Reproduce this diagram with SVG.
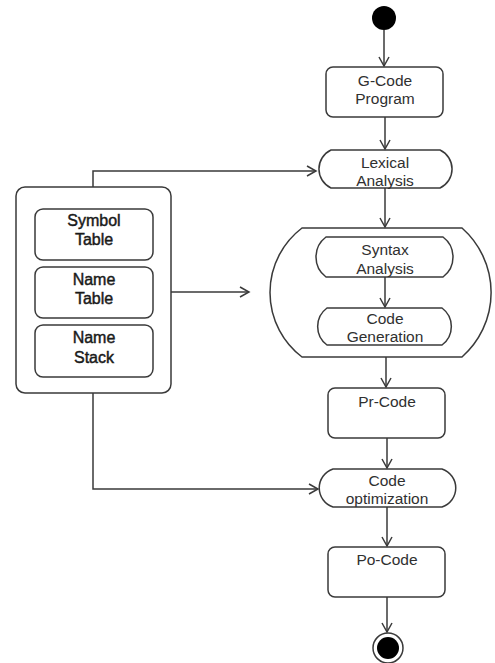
<svg xmlns="http://www.w3.org/2000/svg" width="495" height="663" viewBox="0 0 495 663">
  <style>
    .shape { fill: #ffffff; stroke: #3a3a3a; stroke-width: 1.5; }
    .edge { fill: none; stroke: #3a3a3a; stroke-width: 1.5; }
    .label { font-family: "Liberation Sans", Arial, sans-serif; font-size: 15.5px; fill: #303030; text-anchor: middle; }
    .inner { fill: #1a1a1a; stroke: #1a1a1a; stroke-width: 0.45; font-size: 16px; }
  </style>
  <defs>
    <marker id="open-arrow" markerWidth="12" markerHeight="12" refX="10" refY="6" orient="auto" markerUnits="userSpaceOnUse">
      <path d="M1,1 L10,6 L1,11" fill="none" stroke="#3a3a3a" stroke-width="1.5"/>
    </marker>
  </defs>
  <rect width="495" height="663" fill="#ffffff"/>

  <!-- initial state -->
  <g id="start">
    <circle cx="384" cy="18" r="12" fill="#000000"/>
  </g>

  <g id="gcode-program">
    <rect class="shape" x="326" y="67" width="117" height="50" rx="7"/>
    <text class="label" x="385" y="86">G-Code</text>
    <text class="label" x="385" y="104">Program</text>
  </g>

  <g id="lexical-analysis">
    <path class="shape" d="M331,150 H440 A21,21 0 0 1 440,188 H331 A21,21 0 0 1 331,150 Z"/>
    <text class="label" x="385" y="168">Lexical</text>
    <text class="label" x="385" y="186">Analysis</text>
  </g>

  <!-- left container with the three tables -->
  <g id="tables">
    <rect class="shape" x="16" y="187" width="155" height="206" rx="9"/>
    <g id="symbol-table">
      <rect class="shape" x="35" y="209" width="118" height="51" rx="8"/>
      <text class="label inner" x="94" y="226">Symbol</text>
      <text class="label inner" x="94" y="245">Table</text>
    </g>
    <g id="name-table">
      <rect class="shape" x="35" y="267" width="118" height="51" rx="8"/>
      <text class="label inner" x="94" y="285">Name</text>
      <text class="label inner" x="94" y="304">Table</text>
    </g>
    <g id="name-stack">
      <rect class="shape" x="35" y="325" width="118" height="52" rx="8"/>
      <text class="label inner" x="94" y="343">Name</text>
      <text class="label inner" x="94" y="363">Stack</text>
    </g>
  </g>

  <!-- compound activity: syntax analysis and code generation -->
  <g id="parser">
    <path class="shape" d="M302,228 H462 A86,86 0 0 1 462,357 H302 A81,81 0 0 1 302,228 Z"/>
    <g id="syntax-analysis">
      <path class="shape" d="M326,237 H443 A25,25 0 0 1 443,277 H326 A25,25 0 0 1 326,237 Z"/>
      <text class="label" x="385" y="255">Syntax</text>
      <text class="label" x="385" y="274">Analysis</text>
    </g>
    <g id="code-generation">
      <path class="shape" d="M327,308 H442 A23,23 0 0 1 442,345 H327 A23,23 0 0 1 327,308 Z"/>
      <text class="label" x="385" y="324">Code</text>
      <text class="label" x="385" y="342">Generation</text>
    </g>
  </g>

  <g id="pr-code">
    <rect class="shape" x="328" y="388" width="117" height="50" rx="7"/>
    <text class="label" x="387" y="407">Pr-Code</text>
  </g>

  <g id="code-optimization">
    <path class="shape" d="M333,469 H442 A20,20 0 0 1 442,507 H333 A20,20 0 0 1 333,469 Z"/>
    <text class="label" x="387" y="486">Code</text>
    <text class="label" x="387" y="504">optimization</text>
  </g>

  <g id="po-code">
    <rect class="shape" x="328" y="547" width="117" height="50" rx="7"/>
    <text class="label" x="387" y="565">Po-Code</text>
  </g>

  <!-- final state -->
  <g id="end">
    <circle cx="388" cy="648" r="15" fill="#ffffff" stroke="#3a3a3a" stroke-width="1.5"/>
    <circle cx="388" cy="648" r="11" fill="#000000"/>
  </g>

  <!-- connectors drawn last so they stay visible inside the compound activity -->
  <g id="connectors">
    <path class="edge" d="M384,30 V66" marker-end="url(#open-arrow)"/>
    <path class="edge" d="M385,117 V149" marker-end="url(#open-arrow)"/>
    <path class="edge" d="M93,187 V171 H316" marker-end="url(#open-arrow)"/>
    <path class="edge" d="M385,188 V227" marker-end="url(#open-arrow)"/>
    <path class="edge" d="M171,292 H249" marker-end="url(#open-arrow)"/>
    <path class="edge" d="M385,277 V307" marker-end="url(#open-arrow)"/>
    <path class="edge" d="M386,357 V387" marker-end="url(#open-arrow)"/>
    <path class="edge" d="M387,438 V468" marker-end="url(#open-arrow)"/>
    <path class="edge" d="M93,393 V489 H318" marker-end="url(#open-arrow)"/>
    <path class="edge" d="M387,507 V546" marker-end="url(#open-arrow)"/>
    <path class="edge" d="M387,597 V632" marker-end="url(#open-arrow)"/>
  </g>
</svg>
